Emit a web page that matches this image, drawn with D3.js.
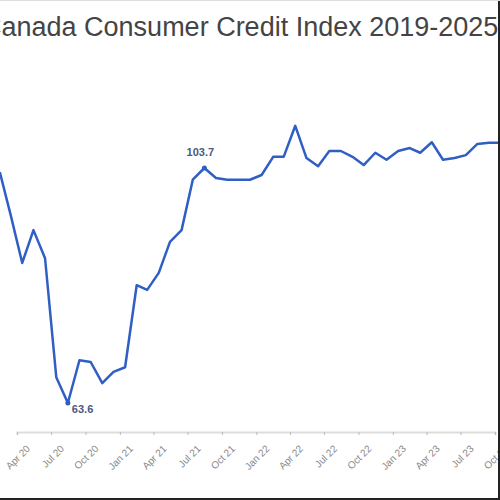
<!DOCTYPE html>
<html>
<head>
<meta charset="utf-8">
<script src="https://cdn.jsdelivr.net/npm/d3@7"></script>
<style>
  body { margin: 0; background: #fff; }
  svg { display: block; font-family: "Liberation Sans", Arial, sans-serif; }
</style>
</head>
<body>
<div id="chart"></div>
<script>
// monthly index values, Feb 2020 onwards (view is a crop of the full chart)
var months = ["2020-02","2020-03","2020-04","2020-05","2020-06","2020-07","2020-08","2020-09","2020-10","2020-11","2020-12",
  "2021-01","2021-02","2021-03","2021-04","2021-05","2021-06","2021-07","2021-08","2021-09","2021-10","2021-11","2021-12",
  "2022-01","2022-02","2022-03","2022-04","2022-05","2022-06","2022-07","2022-08","2022-09","2022-10","2022-11","2022-12",
  "2023-01","2023-02","2023-03","2023-04","2023-05","2023-06","2023-07","2023-08","2023-09","2023-10","2023-11","2023-12"];
var values = [103.0,95.7,87.5,93.1,88.3,68.0,63.6,70.9,70.6,67.0,68.9,
  69.7,83.7,82.9,85.8,91.1,93.1,101.7,103.7,102.0,101.7,101.7,101.7,
  102.5,105.6,105.6,110.9,105.4,104.0,106.6,106.6,105.6,104.2,106.3,105.1,
  106.6,107.1,106.3,108.1,105.1,105.4,105.9,107.8,108.0,108.0,108.1,108.2];
var annotations = [{month: "2020-08", text: "63.6", dx: 4, dy: 10, anchor: "start"},
                   {month: "2021-08", text: "103.7", dx: -4, dy: -12, anchor: "middle"}];
var title = "Canada Consumer Credit Index 2019-2025";

var width = 500, height = 500;
var parse = d3.timeParse("%Y-%m");
var data = months.map(function(m, i) {
  var d = parse(m);
  return {date: new Date(d.getFullYear(), d.getMonth(), 15), value: values[i]};
});

var svg = d3.select("#chart").append("svg")
  .attr("width", width).attr("height", height);

var x = d3.scaleTime()
  .domain([new Date(2020, 3, 1), new Date(2023, 9, 1)])
  .range([17, 495]);
var y = d3.scaleLinear()
  .domain([63.6, 103.7])
  .range([403, 168]);

svg.append("text")
  .attr("x", -18).attr("y", 36)
  .attr("font-size", 27)
  .attr("fill", "#444")
  .text(title);

var axis = svg.append("g")
  .attr("transform", "translate(0,432)")
  .call(d3.axisBottom(x)
    .ticks(d3.timeMonth.every(3))
    .tickFormat(d3.timeFormat("%b %y"))
    .tickSize(3));
axis.select(".domain").attr("stroke", "#ddd").attr("stroke-width", 2);
axis.selectAll(".tick line").attr("stroke", "#bbb");
axis.selectAll(".tick text")
  .attr("fill", "#888")
  .attr("font-size", 10)
  .attr("text-anchor", "end")
  .attr("transform", "translate(4,8) rotate(-45)");

var line = d3.line()
  .x(function(d) { return x(d.date); })
  .y(function(d) { return y(d.value); });

svg.append("path")
  .datum(data)
  .attr("d", line)
  .attr("fill", "none")
  .attr("stroke", "#2f5fc4")
  .attr("stroke-width", 2.5)
  .attr("stroke-linejoin", "round");

annotations.forEach(function(a) {
  var d = data[months.indexOf(a.month)];
  svg.append("circle")
    .attr("cx", x(d.date)).attr("cy", y(d.value)).attr("r", 2.5)
    .attr("fill", "#2f5fc4");
  svg.append("text")
    .attr("x", x(d.date) + a.dx).attr("y", y(d.value) + a.dy)
    .attr("text-anchor", a.anchor)
    .attr("font-size", 11)
    .attr("font-weight", "bold")
    .attr("fill", "#4a5a80")
    .text(a.text);
});

// frame edges of the cropped picture
svg.append("line").attr("x1", 499).attr("x2", 499).attr("y1", 0).attr("y2", 500)
  .attr("stroke", "#222").attr("stroke-width", 2);
svg.append("line").attr("x1", 0).attr("x2", 500).attr("y1", 499).attr("y2", 499)
  .attr("stroke", "#222").attr("stroke-width", 2);
svg.append("line").attr("x1", 0).attr("x2", 500).attr("y1", 0.5).attr("y2", 0.5)
  .attr("stroke", "#ddd");
</script>
</body>
</html>
